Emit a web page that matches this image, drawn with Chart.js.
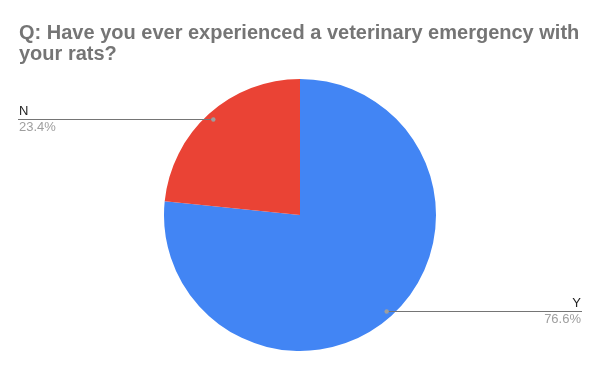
<!DOCTYPE html>
<html>
<head>
<meta charset="utf-8">
<script src="https://cdn.jsdelivr.net/npm/chart.js@4"></script>
<style>
  html, body { margin: 0; padding: 0; background: #fff; }
  #wrap { width: 600px; height: 371px; }
</style>
</head>
<body>
<div id="wrap"><canvas id="myChart" width="600" height="371"></canvas></div>
<script>
// data
const answers = ['Y', 'N'];
const shares = [76.6, 23.4];
const sliceColors = ['#4285F4', '#EA4335'];
const titleLines = ['Q: Have you ever experienced a veterinary emergency with', 'your rats?'];

// title drawn on top-left like the sheets export
const titlePlugin = {
  id: 'sheetTitle',
  afterDraw(chart) {
    const ctx = chart.ctx;
    ctx.save();
    ctx.font = 'bold 20px "Liberation Sans", Arial, sans-serif';
    ctx.fillStyle = '#757575';
    ctx.textBaseline = 'alphabetic';
    ctx.textAlign = 'left';
    ctx.fillText(titleLines[0], 19, 39);
    ctx.fillText(titleLines[1], 19, 60);
    ctx.restore();
  }
};

// leader lines with label + percent
const leaderPlugin = {
  id: 'leaders',
  afterDatasetsDraw(chart) {
    const ctx = chart.ctx;
    const meta = chart.getDatasetMeta(0);
    const total = shares.reduce((a, b) => a + b, 0);
    ctx.save();
    meta.data.forEach((arc, i) => {
      const p = arc.getProps(['x', 'y', 'startAngle', 'endAngle', 'outerRadius'], true);
      const mid = (p.startAngle + p.endAngle) / 2;
      const r = p.outerRadius * 0.95;
      const dx = p.x + Math.cos(mid) * r;
      const dy = p.y + Math.sin(mid) * r;
      const left = Math.cos(mid) < 0;
      const endX = left ? 18 : chart.width - 18;

      ctx.strokeStyle = '#757575';
      ctx.lineWidth = 1;
      ctx.beginPath();
      ctx.moveTo(dx, Math.round(dy) + 0.5);
      ctx.lineTo(endX, Math.round(dy) + 0.5);
      ctx.stroke();

      ctx.fillStyle = '#9e9e9e';
      ctx.beginPath();
      ctx.arc(dx, Math.round(dy) + 0.5, 2.2, 0, Math.PI * 2);
      ctx.fill();

      const tx = left ? endX + 1 : endX - 1;
      ctx.textAlign = left ? 'left' : 'right';
      ctx.font = '13px "Liberation Sans", Arial, sans-serif';
      ctx.fillStyle = '#222222';
      ctx.fillText(answers[i], tx, Math.round(dy) - 4);
      ctx.fillStyle = '#9e9e9e';
      ctx.fillText((shares[i] / total * 100).toFixed(1) + '%', tx, Math.round(dy) + 12);
    });
    ctx.restore();
  }
};

const data = {
  labels: answers,
  datasets: [{
    data: shares,
    backgroundColor: sliceColors,
    borderWidth: 0
  }]
};

const config = {
  type: 'pie',
  data: data,
  options: {
    responsive: false,
    animation: false,
    layout: { padding: { top: 79, bottom: 20, left: 0, right: 0 } },
    plugins: {
      legend: { display: false },
      title: { display: false },
      tooltip: { enabled: false }
    }
  },
  plugins: [leaderPlugin, titlePlugin]
};

const myChart = new Chart(document.getElementById('myChart'), config);
</script>
</body>
</html>
